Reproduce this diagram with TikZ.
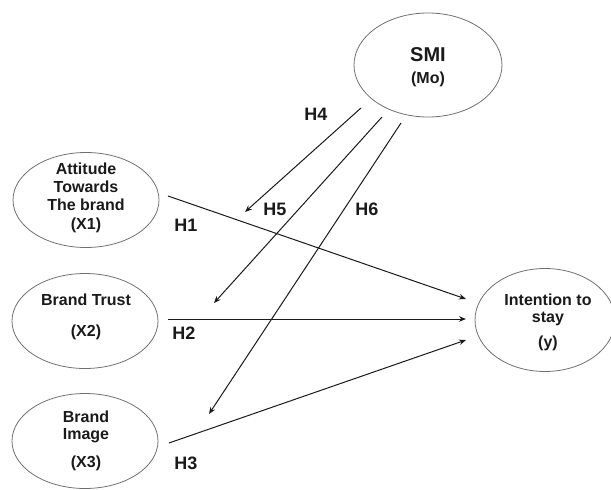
\documentclass[tikz,border=0pt]{standalone}
\usepackage{fontspec}
\setmainfont{Liberation Sans}
\usetikzlibrary{shapes.geometric,arrows.meta}
\definecolor{ell}{HTML}{707070}
\definecolor{ln}{HTML}{1a1a1a}
\tikzset{
  var/.style={ellipse,draw=ell,line width=0.8pt,minimum width=146pt,minimum height=95pt,inner sep=0pt},
  txt/.style={font=\bfseries\fontsize{16}{19}\selectfont,text=ln,align=center,inner sep=0pt},
  hlab/.style={font=\bfseries\fontsize{18}{21}\selectfont,text=ln,inner sep=0pt},
  arr/.style={draw=ln,line width=1pt,-{Stealth[length=7pt,width=5.5pt]}}
}
\begin{document}
\begin{tikzpicture}[x=1pt,y=-1pt]
\useasboundingbox (0,0) rectangle (611,490);
% ellipses
\node[var,minimum width=148pt,minimum height=104pt] (smi) at (428,65) {};
\node[var] (att) at (86,200) {};
\node[var] (bt) at (85,321) {};
\node[var] (bi) at (85,441) {};
\node[var,minimum width=140pt,minimum height=103pt] (its) at (545,320) {};
% texts
\node[txt,font=\bfseries\fontsize{20}{23}\selectfont] (tsmi) at (428,55) {SMI};
\node[txt] (tmo) at (428,79) {(Mo)};
\node[txt] (tatt1) at (86,169) {Attitude};
\node[txt] (tatt2) at (86,187) {Towards};
\node[txt] (tatt3) at (86,205) {The brand};
\node[txt] (tatt4) at (86,225) {(X1)};
\node[txt] (tbt1) at (86,300) {Brand Trust};
\node[txt] (tbt2) at (86,332) {(X2)};
\node[txt] (tbi1) at (86,417) {Brand};
\node[txt] (tbi2) at (86,436) {Image};
\node[txt] (tbi3) at (86,463) {(X3)};
\node[txt] (tit1) at (548,300) {Intention to};
\node[txt] (tit2) at (548,319) {stay};
\node[txt] (tit3) at (548,343) {(y)};
% hypothesis labels
\node[hlab] (h1) at (186,225) {H1};
\node[hlab] (h2) at (184,333) {H2};
\node[hlab] (h3) at (186,463) {H3};
\node[hlab] (h4) at (316,114) {H4};
\node[hlab] (h5) at (275,209) {H5};
\node[hlab] (h6) at (367,209) {H6};
% connector end points
\coordinate (s1) at (168,196);
\coordinate (e1) at (466,299);
\coordinate (s2) at (168,319);
\coordinate (e2) at (466,319);
\coordinate (s3) at (169,443);
\coordinate (e3) at (466,340);
\coordinate (s4) at (361,108);
\coordinate (e4) at (245,212);
\coordinate (s5) at (382,117);
\coordinate (e5) at (214,303);
\coordinate (s6) at (401,123);
\coordinate (e6) at (209,414);
\draw[arr] (s1) -- (e1);
\draw[arr] (s2) -- (e2);
\draw[arr] (s3) -- (e3);
\draw[arr] (s4) -- (e4);
\draw[arr] (s5) -- (e5);
\draw[arr] (s6) -- (e6);
\end{tikzpicture}
\end{document}
